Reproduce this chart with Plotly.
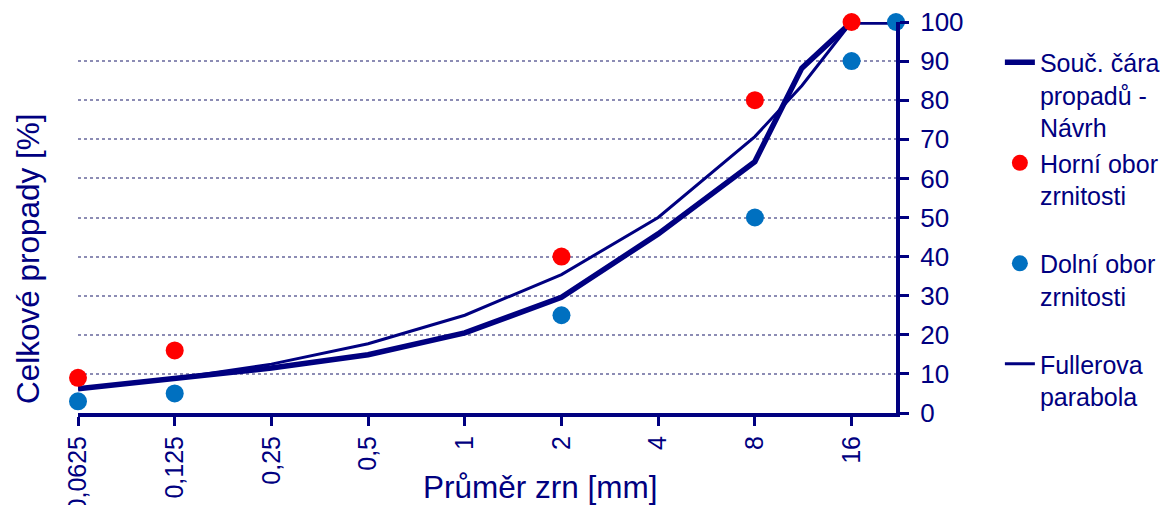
import plotly.graph_objects as go

NAVY = "#000080"
FONT = "Liberation Sans, Arial, sans-serif"

# Data
sieve_main = [0.0625, 0.125, 0.25, 0.5, 1, 2, 4, 8, 11.2, 16, 22]
pass_main = [6.2, 9.0, 11.5, 14.9, 20.5, 29.6, 45.8, 64.3, 88.2, 100, 100]

sieve_upper = [0.0625, 0.125, 2, 8, 16]
pass_upper = [9, 16, 40, 80, 100]

sieve_lower = [0.0625, 0.125, 2, 8, 16, 22]
pass_lower = [3, 5, 25, 50, 90, 100]

sieve_fuller = [0.0625, 0.125, 0.25, 0.5, 1, 2, 4, 8, 11.2, 16]
pass_fuller = [6.25, 8.8, 12.5, 17.7, 25, 35.4, 50, 70.7, 83.7, 100]

tick_vals = [0.0625, 0.125, 0.25, 0.5, 1, 2, 4, 8, 16]
tick_text = ["0,0625", "0,125", "0,25", "0,5", "1", "2", "4", "8", "16"]

fig = go.Figure()
fig.add_trace(go.Scatter(x=sieve_fuller, y=pass_fuller, mode="lines",
                         name="Fullerova<br>parabola", legendrank=4,
                         line=dict(color=NAVY, width=3)))
fig.add_trace(go.Scatter(x=sieve_main, y=pass_main, mode="lines",
                         name="Souč. čára<br>propadů -<br>Návrh", legendrank=1,
                         line=dict(color=NAVY, width=5.5)))
fig.add_trace(go.Scatter(x=sieve_upper, y=pass_upper, mode="markers",
                         name="Horní obor<br>zrnitosti<br> ", legendrank=2,
                         marker=dict(color="#FF0000", size=18), cliponaxis=False))
fig.add_trace(go.Scatter(x=sieve_lower, y=pass_lower, mode="markers",
                         name="Dolní obor<br>zrnitosti<br> ", legendrank=3,
                         marker=dict(color="#0070C0", size=18), cliponaxis=False))

# The page body adds an 8 px offset, so the figure is sized to fit the window.
fig.update_layout(
    width=1163, height=497,
    margin=dict(l=70, r=275, t=14, b=92, autoexpand=False),
    paper_bgcolor="white", plot_bgcolor="white",
    font=dict(family=FONT, color=NAVY, size=25),
    showlegend=True,
    legend=dict(x=1.127, xanchor="left", y=0.955, yanchor="top",
                font=dict(family=FONT, size=25, color=NAVY),
                valign="top", tracegroupgap=0, itemsizing="trace",
                bgcolor="rgba(0,0,0,0)"),
    xaxis=dict(type="log", range=[-1.20412, 1.342423], automargin=False,
               tickvals=tick_vals, ticktext=tick_text, tickangle=-90,
               ticklabeloverflow="allow",
               showgrid=False, zeroline=False,
               showline=True, linecolor=NAVY, linewidth=4,
               ticks="outside", ticklen=9, tickwidth=3, tickcolor=NAVY,
               tickfont=dict(family=FONT, size=25, color=NAVY)),
    yaxis=dict(side="right", range=[0, 100], dtick=10, automargin=False,
               ticklabeloverflow="allow",
               showgrid=True, gridcolor="#8C8CB4", griddash="dot", gridwidth=1.5,
               zeroline=False,
               showline=True, linecolor=NAVY, linewidth=4,
               ticks="outside", ticklen=9, tickwidth=3, tickcolor=NAVY,
               ticklabelstandoff=6,
               tickfont=dict(family=FONT, size=26, color=NAVY)),
    annotations=[
        dict(text="Celkové propady [%]", textangle=-90, showarrow=False,
             xref="paper", yref="paper", x=-0.061, y=0.394,
             xanchor="center", yanchor="middle",
             font=dict(family=FONT, size=31.5, color=NAVY)),
        dict(text="Průměr zrn [mm]", showarrow=False,
             xref="paper", yref="paper", x=0.565, y=-0.189,
             xanchor="center", yanchor="middle",
             font=dict(family=FONT, size=31.5, color=NAVY)),
    ],
)

fig.write_html("out.html")
